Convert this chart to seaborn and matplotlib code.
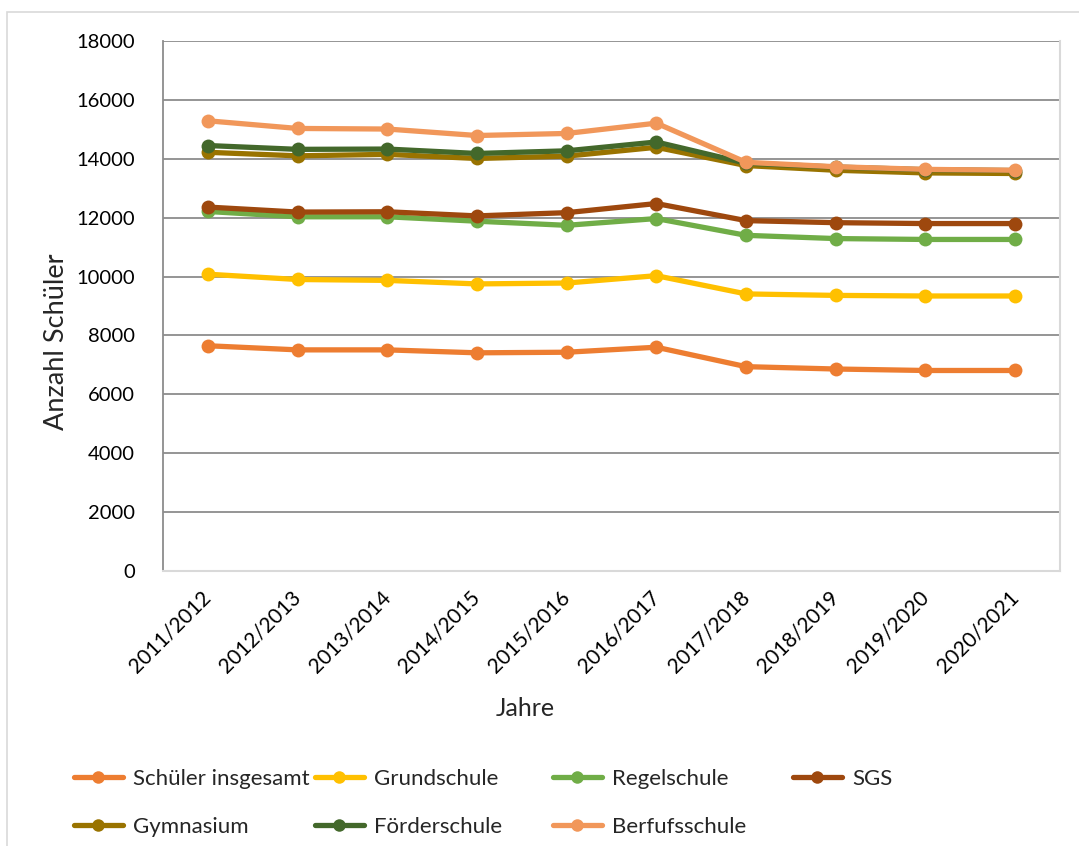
import matplotlib
matplotlib.use("Agg")
import matplotlib.pyplot as plt
from matplotlib.lines import Line2D
from matplotlib.patches import Rectangle
import matplotlib.transforms as mtransforms
import numpy as np
import pandas as pd
import seaborn as sns

# School years
years = ["2011/2012", "2012/2013", "2013/2014", "2014/2015", "2015/2016",
         "2016/2017", "2017/2018", "2018/2019", "2019/2020", "2020/2021"]

# Pupil counts per school type
schueler_insgesamt = [7650, 7510, 7510, 7410, 7430, 7600, 6940, 6860, 6810, 6810]
grundschule = [10080, 9900, 9870, 9750, 9780, 10030, 9410, 9360, 9340, 9340]
regelschule = [12210, 12030, 12030, 11880, 11740, 11970, 11400, 11290, 11260, 11260]
sgs = [12360, 12190, 12200, 12060, 12170, 12480, 11900, 11830, 11800, 11800]
gymnasium = [14220, 14100, 14150, 14010, 14090, 14390, 13770, 13610, 13520, 13500]
foerderschule = [14450, 14320, 14330, 14180, 14270, 14570, 13850, 13720, 13630, 13600]
berufsschule = [15290, 15030, 15010, 14790, 14860, 15210, 13880, 13730, 13640, 13610]

series_names = ["Schüler insgesamt", "Grundschule", "Regelschule", "SGS",
                "Gymnasium", "Förderschule", "Berfufsschule"]
series_values = [schueler_insgesamt, grundschule, regelschule, sgs,
                 gymnasium, foerderschule, berufsschule]
colors = ["#ED7D31", "#FFC000", "#70AD47", "#9E480E",
          "#997300", "#43682B", "#F1975A"]

df = pd.DataFrame(
    [(y, v, name) for name, vals in zip(series_names, series_values)
     for y, v in zip(years, vals)],
    columns=["Jahr", "Anzahl", "Schulart"],
)

sns.set_theme(style="white")
plt.rcParams["font.family"] = ["Lato", "DejaVu Sans"]

fig = plt.figure(figsize=(10.79, 8.46), dpi=100)
W, H = 1079, 846
# outer chart frame
fig.add_artist(Rectangle((7 / W, -0.1), 1.2, 1 - 12 / H + 0.1,
                         transform=fig.transFigure, fill=False,
                         edgecolor="#D9D9D9", linewidth=1.2))

ax = fig.add_axes([163 / W, 1 - 571 / H, (1060 - 163) / W, (571 - 41) / H])

sns.lineplot(data=df, x="Jahr", y="Anzahl", hue="Schulart",
             hue_order=series_names, palette=colors, marker="o",
             markersize=10, markeredgewidth=0, linewidth=3.8,
             sort=False, legend=False, ax=ax)
for ln in ax.lines:
    ln.set_solid_capstyle("round")
    ln.set_solid_joinstyle("round")

ax.set_xlim(-0.5, len(years) - 0.5)
ax.set_ylim(0, 18000)
ax.set_yticks(np.arange(0, 18001, 2000))
ax.yaxis.grid(True, color="#8C8C8C", linewidth=1.3)
ax.set_axisbelow(True)
ax.tick_params(axis="both", length=0, labelsize=14.5, colors="black")
ax.tick_params(axis="y", pad=20)

ax.spines["top"].set_visible(False)
ax.spines["left"].set_color("#8C8C8C")
ax.spines["left"].set_linewidth(1.3)
for s in ("bottom", "right"):
    ax.spines[s].set_color("#D9D9D9")
    ax.spines[s].set_linewidth(1.5)
    ax.spines[s].set_zorder(3)

ax.set_xticks(range(len(years)))
ax.set_xticklabels(years, fontsize=15)
offset = mtransforms.ScaledTranslation(0 / 100, -18 / 100, fig.dpi_scale_trans)
for lbl in ax.get_xticklabels():
    lbl.set_rotation(45)
    lbl.set_ha("right")
    lbl.set_va("center")
    lbl.set_rotation_mode("anchor")
    lbl.set_transform(lbl.get_transform() + offset)

ax.set_xlabel("Jahre", fontsize=18, va="top")
ax.xaxis.set_label_coords((525 - 163) / 897, -(697 - 571) / 530)
ax.set_ylabel("Anzahl Schüler", fontsize=19.5, va="bottom")
ax.yaxis.set_label_coords(-(163 - 69) / 897, (571 - 342) / 530)

# legend: four equal-width columns, filled row by row
col_x = [74, 315, 553, 793]
rows = [[0, 4], [1, 5], [2, 6], [3]]
for cx, idxs in zip(col_x, rows):
    handles = [Line2D([], [], color=colors[i], linewidth=3.8, marker="o",
                      markersize=9, markeredgewidth=0,
                      solid_capstyle="round") for i in idxs]
    labels = [series_names[i] for i in idxs]
    fig.legend(handles, labels, loc="upper left",
               bbox_to_anchor=(cx / W, 1 - 769 / H),
               frameon=False, fontsize=16, handlelength=2.2,
               handletextpad=0.45, labelspacing=1.25,
               borderaxespad=0, borderpad=0)

fig.savefig("out.png", dpi=100)
